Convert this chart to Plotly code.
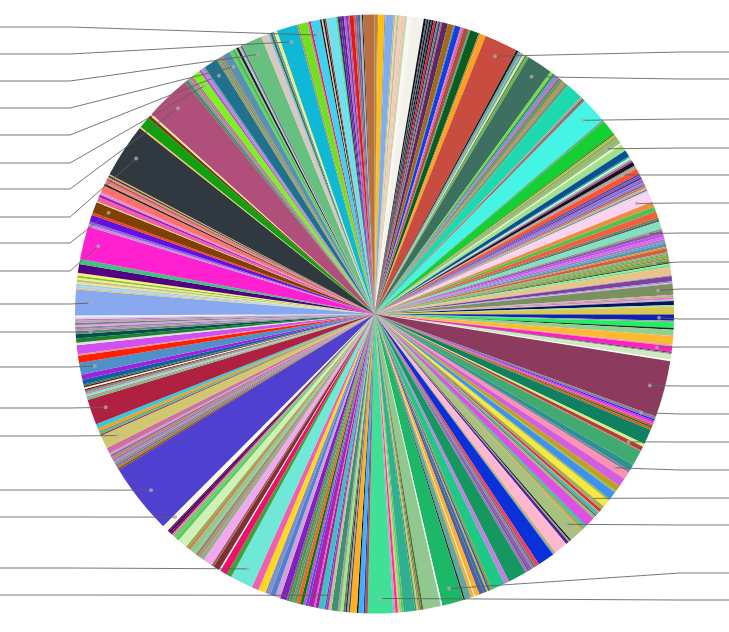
import math
import numpy as np
import plotly.graph_objects as go

W, H = 729, 632
CX, CY, R = 374.5, 314.0, 299.5

# clockwise end of every slice, in degrees from 12 o'clock
slice_ends = [
0.5,0.7,1.9,2.1,3.7,4.0,4.3,4.7,5.3,5.6,6.3,7.2,9.5,9.9,10.1,10.4,10.6,10.9,11.1,11.4,
11.8,12.1,12.4,12.8,13.1,14.2,15.4,15.6,16.7,17.0,17.4,18.4,18.7,20.4,20.7,21.8,28.3,28.7,28.9,29.2,
29.5,29.8,30.2,30.5,31.0,36.0,36.6,37.0,37.4,37.7,38.0,38.4,38.9,39.3,39.6,40.3,43.6,44.0,44.3,44.6,
49.6,50.0,53.0,53.2,53.6,54.2,54.8,55.2,55.6,56.9,58.2,58.5,58.8,59.1,59.5,60.3,60.5,61.0,62.1,62.4,
62.8,63.2,63.6,63.9,64.3,64.6,65.0,65.4,65.7,66.3,68.0,69.0,70.0,71.2,71.6,72.0,73.4,73.8,74.4,75.0,
75.5,76.0,76.4,77.0,77.3,78.1,78.4,78.6,79.0,79.2,79.5,80.0,80.3,80.6,80.9,82.5,82.7,83.7,84.0,84.2,
86.3,86.5,86.8,87.2,87.5,88.3,88.6,90.0,90.2,91.3,91.6,92.7,93.0,94.2,95.9,96.2,97.3,97.5,97.7,98.8,
99.1,110.0,110.6,110.9,111.3,111.6,112.0,112.3,112.8,115.7,116.3,117.1,117.3,120.3,121.5,122.0,123.4,125.1,126.3,126.6,
128.2,128.6,130.0,130.8,131.3,131.6,132.2,132.5,133.0,135.0,135.5,136.0,136.3,139.0,139.3,139.6,140.2,142.8,143.1,143.4,
146.7,147.5,147.9,148.3,148.8,149.2,149.7,153.3,154.3,156.9,157.3,157.7,158.0,158.6,159.5,160.4,160.6,161.2,162.4,162.7,
166.9,167.2,170.6,171.0,171.3,171.6,171.9,172.2,174.4,174.8,175.2,175.5,176.0,176.4,181.3,181.8,182.1,183.1,183.4,184.7,
185.0,185.3,185.6,186.0,186.6,187.1,188.3,188.9,189.3,189.6,190.8,191.4,191.7,192.8,193.3,193.8,194.4,195.1,195.6,196.0,
196.6,197.1,198.4,199.4,200.4,201.4,202.8,204.2,208.6,209.6,211.0,211.3,212.5,213.0,214.8,215.5,216.2,216.6,217.0,218.0,
218.6,219.0,220.9,221.6,222.2,222.6,223.0,223.4,223.7,224.0,224.9,238.6,239.0,239.4,239.8,240.2,240.6,241.0,241.5,241.9,
242.3,243.4,246.0,246.3,246.6,246.9,247.5,248.4,253.3,253.7,254.0,254.4,254.8,255.2,255.5,255.8,256.1,256.4,257.3,258.3,
260.6,262.0,262.3,264.0,264.5,265.3,266.1,266.7,267.1,267.5,267.9,268.3,268.7,269.0,269.4,269.7,274.7,275.0,275.4,275.8,
276.2,276.6,277.0,277.4,277.9,279.6,280.6,287.0,287.5,288.0,289.3,289.8,291.9,292.1,293.0,293.5,294.0,295.4,295.8,296.1,
296.5,296.9,297.2,297.6,297.8,308.4,308.7,310.9,311.5,311.9,320.7,321.0,321.4,321.9,322.3,322.6,324.2,324.6,325.1,325.5,
328.2,328.6,329.1,329.5,331.1,331.6,332.2,332.5,333.0,333.4,333.8,337.8,339.2,339.6,340.0,340.4,341.0,345.0,345.4,347.0,
347.3,347.7,349.5,349.8,350.1,350.4,350.7,352.5,352.9,353.3,353.7,354.1,354.5,354.9,355.2,356.0,356.4,356.8,357.2,357.6,
357.8,360.0,
]

slice_colors = [
"#A89040","#E08030","#FFC010","#909090","#80ACF0","#C8B878","#E8D8A0","#B0C8A0","#F8C8B8","#FFB8A8","#C8D8B0","#FBF6F0","#F2F2EA","#101010","#506070","#101828","#607080","#111111","#205070","#101020",
"#E82040","#402030","#708090","#3A5060","#C06080","#5A2A68","#A06A18","#6080C0","#1040E0","#E070D0","#D060A0","#B04E38","#40A890","#0A5C20","#B08040","#FFA020","#C84C40","#121212","#40A060","#5090B0",
"#90B0D0","#60A070","#E0E8A0","#408070","#70B040","#3D7060","#70E040","#408060","#50A0C0","#A070C0","#C060C0","#608060","#50A060","#B09050","#E07050","#60A080","#1ED8B0","#B0A090","#606060","#907870",
"#44F5E5","#70A090","#14D034","#503010","#A0C840","#90B060","#A0B070","#70C880","#F8F0B0","#A0E090","#085090","#30A0A0","#E0F0E0","#70E080","#C040C0","#131313","#808080","#B0A0A0","#FF5030","#4040A0",
"#8050C0","#504080","#A060E0","#5070C0","#B070D0","#7060A0","#C08060","#D8B080","#6081C0","#E8D8E0","#FFD0F0","#E89040","#50C050","#F06040","#708050","#616161","#7FE0C4","#A09080","#8060A1","#C050F0",
"#E060F0","#A080C0","#60A0C0","#6090B0","#E09030","#D06040","#90B080","#818181","#60C040","#E07040","#40B060","#90A040","#2F5050","#90F090","#60E080","#E8C48A","#A0A0B0","#8040A0","#80A0E0","#F0A0C0",
"#7A9060","#F090C0","#90C070","#F070D0","#B0C0B0","#081060","#A0E0A0","#D8C850","#828282","#1020B0","#A0A0A0","#20F060","#202020","#90D090","#FFB830","#F0A0A0","#FF20C0","#403040","#919191","#D0E8C0",
"#FFFFFF","#8C3A5E","#9080A0","#1818E0","#C030F0","#F040E0","#E06020","#106040","#D06020","#0F8060","#D0F080","#B04040","#E06040","#40AA70","#2E9090","#8080A0","#FF90B0","#D060E0","#C0A020","#80C060",
"#4090F0","#90C040","#F8E840","#A0B050","#E02050","#C0A040","#30C0C0","#A04041","#90C071","#E050E0","#30C0B0","#80B060","#F09030","#A8C080","#141414","#90B070","#5020A0","#FFB8D0","#E0A030","#60B0D0",
"#0A30D8","#F04060","#508060","#A070D0","#8060A0","#705090","#A070C1","#159860","#C080E0","#20C888","#A09020","#2060C0","#F0A030","#3070A0","#5060A0","#FFB030","#FFF0D0","#F0B040","#60A8A0","#212121",
"#1CB868","#FEFEFE","#90C890","#308040","#C06040","#70B041","#E0C080","#30A060","#30B090","#60C060","#70E070","#F0C080","#FF3090","#C0A0C0","#40E098","#B05050","#2040A0","#40B0FF","#101011","#FFB020",
"#505050","#A0A0A2","#303030","#707070","#90F070","#A0A0A3","#3D9070","#C0C0A0","#C030A0","#4050D0","#40C0C0","#A020A1","#E060C0","#B020A8","#5050E0","#C050E0","#008000","#F06030","#50A040","#808081",
"#40A041","#707071","#8020C0","#D0A0D8","#5080D0","#8090C8","#FFD820","#F060B0","#70E8D8","#40A040","#F01068","#FDFDFD","#803030","#A06060","#F0A8F0","#90B081","#B09080","#808060","#A0C090","#90C891",
"#D08050","#80B042","#D0F0B8","#60C860","#60D070","#E08090","#900060","#200080","#801020","#FCFCFC","#F8F8E8","#5040D0","#805020","#A08041","#9060B0","#70A071","#C080C0","#9070C0","#B09060","#A060A0",
"#C0A0E0","#D070A0","#D0C870","#A02080","#60C041","#40A0A0","#FF9820","#38C8D8","#B02040","#60C080","#D08080","#90E0D0","#A0A0A1","#848484","#802010","#FBFBFB","#702000","#208060","#1060A0","#A020E0",
"#5090C8","#FF2000","#F09091","#D050F0","#E0E0E0","#208030","#005050","#609070","#D080C0","#8090A0","#E0A0E0","#708080","#C0A0C0","#B080B0","#E0C8F0","#F0F0F0","#88A8F0","#E0C060","#B0D0F0","#A0D0E0",
"#F0E090","#C0C080","#F0F080","#80C042","#F8F070","#500080","#40C081","#FF20D0","#C090D0","#9060E0","#6010E0","#F04020","#804000","#E0E080","#F060A0","#A020C0","#E090D0","#FF7070","#232323","#D09060",
"#F07090","#B05060","#E0A040","#404060","#FFB040","#303840","#FFC060","#10A010","#704000","#F0E0B0","#B0507A","#607060","#408071","#80A080","#E060A0","#858585","#80F020","#9060C0","#E070E0","#60A0B0",
"#207090","#A09060","#70A072","#A08060","#5A90B0","#60D060","#40C050","#A0C060","#102040","#C0C0C0","#607081","#68C080","#D8C8C0","#70C0E0","#506030","#50A0C1","#F0F081","#10B8D8","#A0A040","#70E020",
"#A0A070","#E02070","#40D0F0","#151515","#E0C0A0","#102010","#A04042","#70E0F0","#50E080","#402080","#603090","#5020A1","#C060C1","#7040B0","#A060C0","#E81810","#C06070","#707090","#5060A0","#B0B0B0",
"#161616","#B87040",
]
assert len(slice_ends) == len(slice_colors), (len(slice_ends), len(slice_colors))

# which slices carry a leader, and the height of the hidden label each one runs to
right_leader_slices = ["#C84C40","#3D7060","#44F5E5","#A0B070","#B0A0A0","#FFD0F0","#A09080","#90A040","#7A9060","#1020B0",
                       "#FF20C0","#8C3A5E","#9080A0","#B04040","#FF90B0","#A0B050","#A8C080","#1CB868","#40E098"]
right_label_y = [52,79,119,148,175,203,233,262,289,319,347,386,414,442,470,498,525,573,600]
left_leader_slices = ["#40D0F0","#10B8D8","#68C080","#5A90B0","#207090","#80F020","#B0507A","#303840","#804000","#FF20D0",
                      "#88A8F0","#609070","#5090C8","#B02040","#D0C870","#5040D0","#F8F8E8","#70E8D8","#C0C0A0"]
left_label_y = [27,54,81,108,135,163,189,217,243,271,304,332,367,408,436,490,517,568,595]

slice_values = np.diff([0.0] + slice_ends)
mid_angles = np.array([0.0] + slice_ends[:-1]) + slice_values / 2

fig = go.Figure(go.Pie(
    labels=[f"item {i + 1}" for i in range(len(slice_values))],
    values=slice_values,
    sort=False,
    direction="clockwise",
    rotation=0,
    textinfo="none",
    hoverinfo="label+percent",
    showlegend=False,
    marker=dict(colors=slice_colors, line=dict(width=0)),
    domain=dict(x=[(CX - R) / W, (CX + R) / W], y=[(H - CY - R) / H, (H - CY + R) / H]),
))

shapes = []
def px(x):
    return x / W
def py(y):
    return 1 - y / H

def add_leader(color, label_y, elbow_x, edge_x):
    angle = math.radians(mid_angles[slice_colors.index(color)])
    dx = CX + 0.95 * R * math.sin(angle)
    dy = CY - 0.95 * R * math.cos(angle)
    path = f"M {px(edge_x)} {py(label_y)} L {px(elbow_x)} {py(label_y)} L {px(dx)} {py(dy)}"
    shapes.append(dict(type="path", path=path, xref="paper", yref="paper", layer="above",
                       line=dict(color="rgba(95,95,95,0.85)", width=1)))
    shapes.append(dict(type="circle", xref="paper", yref="paper", layer="above",
                       x0=px(dx - 2), x1=px(dx + 2), y0=py(dy + 2), y1=py(dy - 2),
                       fillcolor="rgba(175,175,175,0.75)", line=dict(width=0)))

for c, y in zip(right_leader_slices, right_label_y):
    add_leader(c, y, 680, W)
for c, y in zip(left_leader_slices, left_label_y):
    add_leader(c, y, 70, 0)

fig.update_layout(width=W, height=H, margin=dict(l=0, r=0, t=0, b=0),
                  paper_bgcolor="white", plot_bgcolor="white", shapes=shapes)
fig.write_html("out.html", config=dict(displayModeBar=False),
               post_script="document.body.style.margin='0';")
